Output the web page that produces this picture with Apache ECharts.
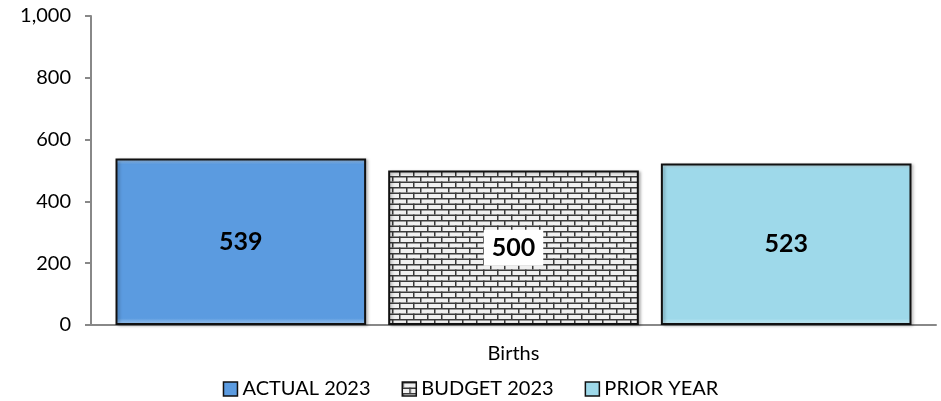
<!DOCTYPE html>
<html><head><meta charset="utf-8">
<script src="https://cdn.jsdelivr.net/npm/echarts@6/dist/echarts.min.js"></script>
<style>html,body{margin:0;padding:0;background:#fff}#c{width:941px;height:401px}</style>
</head><body><div id="c"></div>
<script>
const categories = ['Births'];
const seriesNames = ['ACTUAL 2023', 'BUDGET 2023', 'PRIOR YEAR'];
const actual2023 = [539];
const budget2023 = [500];
const priorYear = [523];

function brickPattern() {
  const c = document.createElement('canvas');
  const w = 14, h = 11;
  c.width = w; c.height = h;
  const g = c.getContext('2d');
  g.fillStyle = '#f0f0f0'; g.fillRect(0, 0, w, h);
  g.fillStyle = '#3a3a3a';
  g.fillRect(0, 0, w, 1.5);
  g.fillRect(0, 5.5, w, 1.5);
  g.fillRect(0, 0, 1.5, 5.5);
  g.fillRect(7, 5.5, 1.5, 5.5);
  return c;
}
const pat = brickPattern();

function bevel(base, light) {
  return new echarts.graphic.LinearGradient(0, 0, 0, 1, [
    { offset: 0, color: light }, { offset: 0.035, color: base }, { offset: 0.96, color: base }, { offset: 1, color: light }
  ]);
}

const font = 'Lato, "Open Sans", sans-serif';
const chart = echarts.init(document.getElementById('c'), null, {renderer: 'canvas'});
function mk(name, data, color, labelBg) {
  return {
    name, type: 'bar', data,
    barGap: '8.8%', barCategoryGap: '5.8%',
    itemStyle: { color, borderColor: '#111', borderWidth: 2, shadowColor: 'rgba(0,0,0,0.25)', shadowBlur: 3, shadowOffsetX: 2, shadowOffsetY: 1 },
    label: { show: true, position: 'inside', color: '#000', fontWeight: 'bold', fontSize: 25, fontFamily: font,
      backgroundColor: labelBg, padding: labelBg ? [5, 8, 5, 8] : 0, lineHeight: 26 }
  };
}
chart.setOption({
  animation: false,
  grid: { left: 91, right: 5, top: 16, bottom: 76 },
  xAxis: { type: 'category', data: categories,
    axisLine: { lineStyle: { color: '#888', width: 2 } }, axisTick: { show: false },
    axisLabel: { color: '#000', fontSize: 20, fontFamily: font, margin: 19 } },
  yAxis: { type: 'value', min: 0, max: 1000, interval: 200,
    axisLine: { show: true, lineStyle: { color: '#888', width: 2 } },
    axisTick: { show: true, inside: false, length: 6, lineStyle: { color: '#888', width: 2 } },
    splitLine: { show: false },
    axisLabel: { color: '#000', fontSize: 20, fontFamily: font, margin: 20,
      formatter: v => v.toLocaleString('en-US') } },
  legend: { top: 374, left: 'center', itemWidth: 14, itemHeight: 14, itemGap: 31,
    icon: 'rect', textStyle: { color: '#000', fontSize: 20, fontFamily: font },
    data: seriesNames.map(n => ({ name: n, itemStyle: { borderColor: '#111', borderWidth: 1.5, shadowBlur: 0 } })) },
  series: [
    mk(seriesNames[0], actual2023, bevel('#5b9be0', '#a9cdf2'), null),
    mk(seriesNames[1], budget2023, { image: pat, repeat: 'repeat' }, '#fff'),
    mk(seriesNames[2], priorYear, bevel('#9ed9ea', '#cdeef6'), null)
  ]
});
</script></body></html>
